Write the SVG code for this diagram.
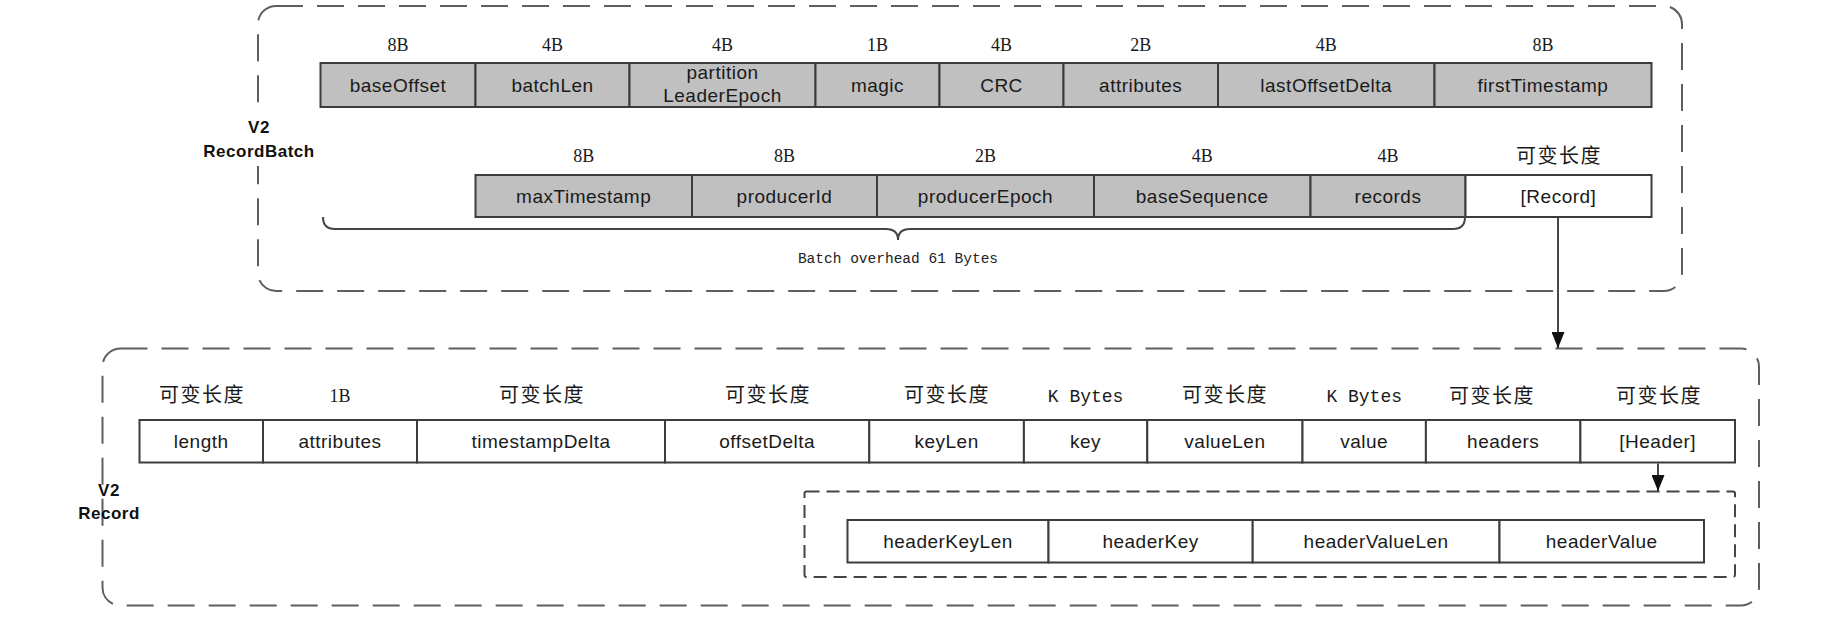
<svg xmlns="http://www.w3.org/2000/svg" width="1828" height="622" viewBox="0 0 1828 622">
<style>
.bg{fill:#ffffff}
.frame{fill:none;stroke:#5f5f5f;stroke-width:2;stroke-dasharray:27 14}
.inner{fill:none;stroke:#444;stroke-width:2;stroke-dasharray:13 7}
.g{fill:#c0c0c0;stroke:#3c3c3c;stroke-width:2}
.w{fill:#ffffff;stroke:#3c3c3c;stroke-width:2}
.t{font-family:"Liberation Sans",Arial,sans-serif;font-size:19px;letter-spacing:0.5px;fill:#1a1a1a;text-anchor:middle}
.sz{font-family:"Liberation Serif","Times New Roman",serif;font-size:18px;fill:#1a1a1a;text-anchor:middle}
.cn{font-family:"Noto Sans CJK SC","Noto Sans",sans-serif;font-size:20px;letter-spacing:1.5px;fill:#1a1a1a;text-anchor:middle}
.mo{font-family:"Liberation Mono","Courier New",monospace;font-size:18px;fill:#1a1a1a;text-anchor:middle}
.lb{font-family:"Liberation Sans",Arial,sans-serif;font-size:17px;font-weight:bold;letter-spacing:0.5px;fill:#111;text-anchor:middle}
.note{font-family:"Liberation Mono","Courier New",monospace;font-size:14.5px;fill:#222;text-anchor:middle}
.ln{fill:none;stroke:#333;stroke-width:1.8}
.brace{fill:none;stroke:#444;stroke-width:2}
</style>
<defs>
<marker id="ah" markerUnits="userSpaceOnUse" markerWidth="16" markerHeight="13" refX="16" refY="6.5" orient="auto">
<path d="M0,0 L16,6.5 L0,13 z" fill="#111"/>
</marker>
</defs>
<rect class="bg" x="0" y="0" width="1828" height="622"/>

<g id="recordbatch-frame">
<rect class="frame" x="258" y="6" width="1424" height="285" rx="18" ry="18"/>
<rect class="bg" x="200" y="116" width="120" height="50"/>
<text class="lb" x="259" y="133">V2</text>
<text class="lb" x="259" y="157">RecordBatch</text>
</g>

<g id="batch-row1">
<g id="baseOffset"><rect class="g" x="320.5" y="63" width="155" height="44"/><text class="sz" x="398" y="51">8B</text><text class="t" x="398" y="92">baseOffset</text></g>
<g id="batchLen"><rect class="g" x="475.5" y="63" width="154" height="44"/><text class="sz" x="552.5" y="51">4B</text><text class="t" x="552.5" y="92">batchLen</text></g>
<g id="partitionLeaderEpoch"><rect class="g" x="629.5" y="63" width="186" height="44"/><text class="sz" x="722.5" y="51">4B</text><text class="t" x="722.5" y="79">partition</text><text class="t" x="722.5" y="102">LeaderEpoch</text></g>
<g id="magic"><rect class="g" x="815.5" y="63" width="124" height="44"/><text class="sz" x="877.5" y="51">1B</text><text class="t" x="877.5" y="92">magic</text></g>
<g id="crc"><rect class="g" x="939.5" y="63" width="124" height="44"/><text class="sz" x="1001.5" y="51">4B</text><text class="t" x="1001.5" y="92">CRC</text></g>
<g id="attributes"><rect class="g" x="1063.5" y="63" width="154.5" height="44"/><text class="sz" x="1140.7" y="51">2B</text><text class="t" x="1140.7" y="92">attributes</text></g>
<g id="lastOffsetDelta"><rect class="g" x="1218" y="63" width="216.5" height="44"/><text class="sz" x="1326.2" y="51">4B</text><text class="t" x="1326.2" y="92">lastOffsetDelta</text></g>
<g id="firstTimestamp"><rect class="g" x="1434.5" y="63" width="217" height="44"/><text class="sz" x="1543" y="51">8B</text><text class="t" x="1543" y="92">firstTimestamp</text></g>
</g>

<g id="batch-row2">
<g id="maxTimestamp"><rect class="g" x="475.5" y="175" width="216.5" height="42"/><text class="sz" x="583.7" y="162">8B</text><text class="t" x="583.7" y="203">maxTimestamp</text></g>
<g id="producerId"><rect class="g" x="692" y="175" width="185" height="42"/><text class="sz" x="784.5" y="162">8B</text><text class="t" x="784.5" y="203">producerId</text></g>
<g id="producerEpoch"><rect class="g" x="877" y="175" width="217" height="42"/><text class="sz" x="985.5" y="162">2B</text><text class="t" x="985.5" y="203">producerEpoch</text></g>
<g id="baseSequence"><rect class="g" x="1094" y="175" width="216.5" height="42"/><text class="sz" x="1202.2" y="162">4B</text><text class="t" x="1202.2" y="203">baseSequence</text></g>
<g id="records"><rect class="g" x="1310.5" y="175" width="155" height="42"/><text class="sz" x="1388" y="162">4B</text><text class="t" x="1388" y="203">records</text></g>
<g id="recordArray"><rect class="w" x="1465.5" y="175" width="186" height="42"/><text class="cn" x="1559" y="163">可变长度</text><text class="t" x="1558.5" y="203">[Record]</text></g>
</g>

<g id="batch-overhead">
<path class="brace" d="M323,217 Q323,229 335,229 L886,229 Q898,229 898,240 Q898,229 910,229 L1453,229 Q1465,229 1465,217"/>
<text class="note" x="898" y="263">Batch overhead 61 Bytes</text>
</g>

<g id="record-frame">
<rect class="frame" x="102.5" y="348.5" width="1656.5" height="257" rx="18" ry="18"/>
<text class="lb" x="109" y="496">V2</text>
<text class="lb" x="109" y="519">Record</text>
</g>

<g id="record-row">
<g id="length"><rect class="w" x="139.5" y="420" width="123.5" height="42.5"/><text class="cn" x="202" y="402">可变长度</text><text class="t" x="201.2" y="448">length</text></g>
<g id="rec-attributes"><rect class="w" x="263" y="420" width="154" height="42.5"/><text class="sz" x="340" y="402">1B</text><text class="t" x="340" y="448">attributes</text></g>
<g id="timestampDelta"><rect class="w" x="417" y="420" width="248" height="42.5"/><text class="cn" x="542" y="402">可变长度</text><text class="t" x="541" y="448">timestampDelta</text></g>
<g id="offsetDelta"><rect class="w" x="665" y="420" width="204.3" height="42.5"/><text class="cn" x="768" y="402">可变长度</text><text class="t" x="767.2" y="448">offsetDelta</text></g>
<g id="keyLen"><rect class="w" x="869.3" y="420" width="154.6" height="42.5"/><text class="cn" x="947" y="402">可变长度</text><text class="t" x="946.6" y="448">keyLen</text></g>
<g id="key"><rect class="w" x="1023.9" y="420" width="123.4" height="42.5"/><text class="mo" x="1085.6" y="402">K Bytes</text><text class="t" x="1085.6" y="448">key</text></g>
<g id="valueLen"><rect class="w" x="1147.3" y="420" width="155.2" height="42.5"/><text class="cn" x="1225" y="402">可变长度</text><text class="t" x="1224.9" y="448">valueLen</text></g>
<g id="value"><rect class="w" x="1302.5" y="420" width="123.4" height="42.5"/><text class="mo" x="1364.2" y="402">K Bytes</text><text class="t" x="1364.2" y="448">value</text></g>
<g id="headers"><rect class="w" x="1425.9" y="420" width="154.5" height="42.5"/><text class="cn" x="1492" y="403">可变长度</text><text class="t" x="1503.2" y="448">headers</text></g>
<g id="headerArray"><rect class="w" x="1580.4" y="420" width="154.6" height="42.5"/><text class="cn" x="1659" y="403">可变长度</text><text class="t" x="1657.7" y="448">[Header]</text></g>
</g>

<g id="header-frame">
<rect class="inner" x="804.5" y="491.5" width="930.5" height="85.5" rx="2" ry="2"/>
</g>

<g id="header-row">
<g id="headerKeyLen"><rect class="w" x="847.5" y="520" width="201" height="42.5"/><text class="t" x="948" y="548">headerKeyLen</text></g>
<g id="headerKey"><rect class="w" x="1048.5" y="520" width="204.2" height="42.5"/><text class="t" x="1150.6" y="548">headerKey</text></g>
<g id="headerValueLen"><rect class="w" x="1252.7" y="520" width="246.8" height="42.5"/><text class="t" x="1376.1" y="548">headerValueLen</text></g>
<g id="headerValue"><rect class="w" x="1499.5" y="520" width="204.5" height="42.5"/><text class="t" x="1601.7" y="548">headerValue</text></g>
</g>

<g id="connectors">
<line class="ln" x1="1558" y1="218" x2="1558" y2="348" marker-end="url(#ah)"/>
<line class="ln" x1="1658" y1="463.5" x2="1658" y2="491" marker-end="url(#ah)"/>
</g>
</svg>
